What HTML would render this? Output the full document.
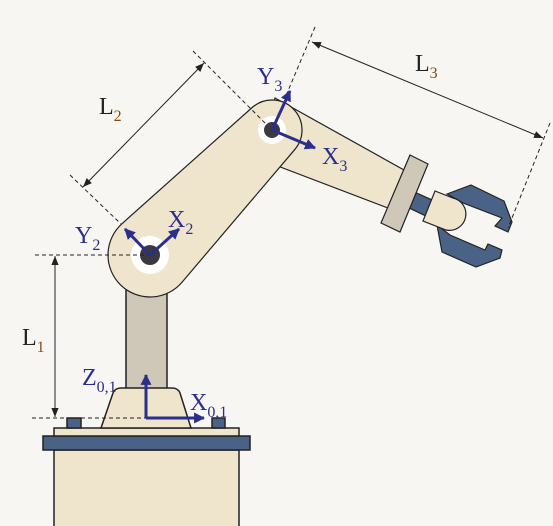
<!DOCTYPE html>
<html><head><meta charset="utf-8"><style>
html,body{margin:0;padding:0;background:#f7f6f2;}
svg{display:block;}
text{font-family:"Liberation Serif",serif;}
</style></head><body>
<svg id="s" width="553" height="526" viewBox="0 0 553 526" xmlns="http://www.w3.org/2000/svg">
<defs>
<marker id="ah" viewBox="0 0 10 10" refX="10" refY="5" markerWidth="9" markerHeight="9" orient="auto-start-reverse" markerUnits="userSpaceOnUse"><path d="M0,1 L10,5 L0,9 Z" fill="#222"/></marker>
<marker id="ab" viewBox="0 0 10 10" refX="9" refY="5" markerWidth="11" markerHeight="11" orient="auto" markerUnits="userSpaceOnUse"><path d="M0,0 L10,5 L0,10 Z" fill="#2b2f8c"/></marker>
</defs>
<rect width="553" height="526" fill="#f7f6f2"/>
<g stroke="#222" stroke-width="1.5">
<rect x="54" y="450" width="185" height="80" fill="#efe4cc"/>
<rect x="43" y="436" width="207" height="14" fill="#4a6285"/>
<rect x="54" y="428" width="185" height="8" fill="#efe4cc"/>
<rect x="67" y="418" width="14" height="10" fill="#4a6285"/>
<rect x="212" y="418" width="13" height="10" fill="#4a6285"/>
<rect x="126" y="270" width="41" height="120" fill="#cfc8b8"/>
<path d="M101,428 L113,393 Q115,388 121,388 L172,388 Q178,388 180,393 L191,428 Z" fill="#efe4cc"/>
</g>
<polygon points="275,98 404,170 388,208 262,160" fill="#efe4cc" stroke="#222" stroke-width="1.2"/>
<path id="link2" fill="#efe4cc" stroke="#222" stroke-width="1.2"/>
<g stroke="#222" stroke-width="1.2">
<polygon points="447,194 471,185 504,201 512,222 508,232 495,226 502,218 463,203" fill="#4a6285"/>
<polygon points="437,225 442,252 476,267 500,258 502,250 488,244 485,250 450,235" fill="#4a6285"/>
<polygon points="410,190 432,200 426,216 405,206" fill="#4a6285"/>
<path d="M435,191 L453,198 A16,16 0 0 1 446,230 L423,221 Z" fill="#efe4cc"/>
<polygon points="410,155 428,164 400,232 381,223" fill="#cfc8b8"/>
</g>
<circle cx="150" cy="255" r="19" fill="#fff"/>
<circle cx="150" cy="255" r="10" fill="#3a3a3e"/>
<circle cx="272" cy="130" r="14" fill="#fff"/>
<circle cx="272" cy="130" r="8" fill="#3a3a3e"/>
<g stroke="#222" stroke-width="1" fill="none">
<line x1="35" y1="255" x2="150" y2="255" stroke-dasharray="4,3"/>
<line x1="32" y1="418" x2="146" y2="418" stroke-dasharray="4,3"/>
<line x1="55" y1="256" x2="55" y2="417" marker-start="url(#ah)" marker-end="url(#ah)"/>
<line x1="193" y1="51" x2="266" y2="124" stroke-dasharray="4,3"/>
<line x1="70" y1="175" x2="121" y2="224" stroke-dasharray="4,3"/>
<line x1="204" y1="63" x2="83" y2="187" marker-start="url(#ah)" marker-end="url(#ah)"/>
<line x1="315" y1="27" x2="285" y2="98" stroke-dasharray="4,3"/>
<line x1="550" y1="123" x2="508" y2="228" stroke-dasharray="4,3"/>
<line x1="312" y1="42" x2="543" y2="138" marker-start="url(#ah)" marker-end="url(#ah)"/>
</g>
<g stroke="#2b2f8c" stroke-width="3" fill="none">
<line x1="146" y1="418" x2="146" y2="375" marker-end="url(#ab)"/>
<line x1="146" y1="418" x2="204" y2="418" marker-end="url(#ab)"/>
<line x1="150" y1="255" x2="125" y2="229" marker-end="url(#ab)"/>
<line x1="150" y1="255" x2="179" y2="229" marker-end="url(#ab)"/>
<line x1="272" y1="130" x2="290" y2="91" marker-end="url(#ab)"/>
<line x1="272" y1="130" x2="315" y2="148" marker-end="url(#ab)"/>
</g>
<g fill="#2b2f8c" font-size="24">
<text x="75" y="243">Y<tspan font-size="16" dy="7">2</tspan></text>
<text x="168" y="227">X<tspan font-size="16" dy="7">2</tspan></text>
<text x="257" y="84">Y<tspan font-size="16" dy="7">3</tspan></text>
<text x="322" y="164">X<tspan font-size="16" dy="7">3</tspan></text>
<text x="82" y="385">Z<tspan font-size="16" dy="7">0,1</tspan></text>
<text x="190" y="410">X<tspan font-size="16" dy="7">0,1</tspan></text>
</g>
<g fill="#222" font-size="24">
<text x="22" y="345">L<tspan font-size="16" dy="7" fill="#8a4a10">1</tspan></text>
<text x="99" y="114">L<tspan font-size="16" dy="7" fill="#8a4a10">2</tspan></text>
<text x="415" y="71">L<tspan font-size="16" dy="7" fill="#8a4a10">3</tspan></text>
</g>
</svg>
<script>
(function(){
  var c1=[150,255],r1=42,c2=[272,130],r2=30;
  var dx=c2[0]-c1[0],dy=c2[1]-c1[1],d=Math.hypot(dx,dy);
  var ux=dx/d,uy=dy/d,a=Math.asin((r1-r2)/d);
  function rot(x,y,t){return [x*Math.cos(t)-y*Math.sin(t),x*Math.sin(t)+y*Math.cos(t)];}
  var nL=rot(-uy,ux,-a), nR=rot(uy,-ux,a);
  var p1=[c1[0]+r1*nL[0],c1[1]+r1*nL[1]], p2=[c2[0]+r2*nL[0],c2[1]+r2*nL[1]];
  var q2=[c2[0]+r2*nR[0],c2[1]+r2*nR[1]], q1=[c1[0]+r1*nR[0],c1[1]+r1*nR[1]];
  var path='M'+p1+' L'+p2+' A'+r2+','+r2+' 0 0 0 '+q2+' L'+q1+' A'+r1+','+r1+' 0 1 0 '+p1+' Z';
  document.getElementById('link2').setAttribute('d',path);
})();
</script>
</body></html>
